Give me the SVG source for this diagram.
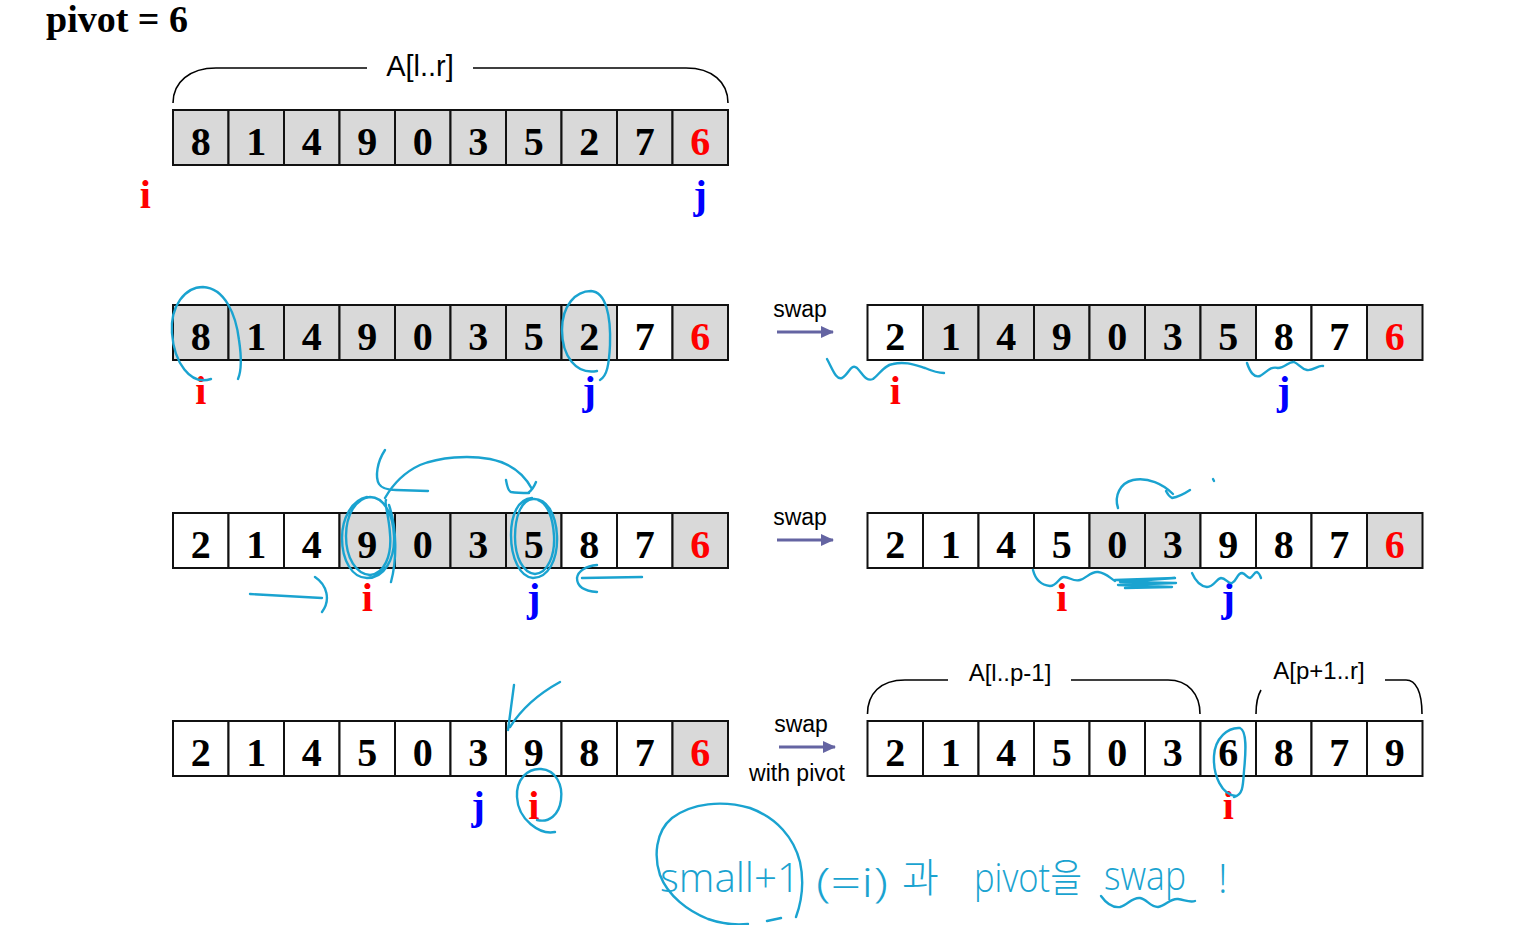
<svg xmlns="http://www.w3.org/2000/svg" width="1518" height="925" viewBox="0 0 1518 925">
<style>
.g{fill:#d9d9d9;stroke:#111;stroke-width:2}
.w{fill:#fff;stroke:#111;stroke-width:2}
.n{font-family:"Liberation Serif",serif;font-weight:bold;font-size:40px;text-anchor:middle;fill:#000}
.r{fill:#ff0000}
.b{fill:#0000ff}
.lab{font-family:"Liberation Serif",serif;font-weight:bold;font-size:40px;text-anchor:middle}
.sans{font-family:"Liberation Sans",Arial,sans-serif;fill:#000}
.br{fill:none;stroke:#000;stroke-width:1.6}
.arr{stroke:#6464a2;stroke-width:3;fill:none}
.hw{fill:none;stroke:#1aa3d0;stroke-width:2.4;stroke-linecap:round;stroke-linejoin:round}
.ht{font-family:"Open Sans","Noto Sans","Noto Sans CJK KR",sans-serif;font-weight:300;fill:#1aa3d0;font-size:40px}
</style>
<defs>
<marker id="ah" markerWidth="13" markerHeight="12" refX="12" refY="6" orient="auto" markerUnits="userSpaceOnUse">
<path d="M0,0 L13,6 L0,12 z" fill="#6464a2"/>
</marker>
</defs>

<text x="46" y="32" style="font-family:'Liberation Serif',serif;font-weight:bold;font-size:38px">pivot = 6</text>

<!-- Row 1 -->
<g id="array1">
<path class="br" d="M173,103 C173,82 190,68 216,68 L367,68 M473,68 L686,68 C712,68 728,82 728,103"/>
<text class="sans" x="420" y="76" font-size="29" text-anchor="middle">A[l..r]</text>
<rect class="g" x="173" y="110" width="55.5" height="55"/><rect class="g" x="228.5" y="110" width="55.5" height="55"/><rect class="g" x="284" y="110" width="55.5" height="55"/><rect class="g" x="339.5" y="110" width="55.5" height="55"/><rect class="g" x="395" y="110" width="55.5" height="55"/><rect class="g" x="450.5" y="110" width="55.5" height="55"/><rect class="g" x="506" y="110" width="55.5" height="55"/><rect class="g" x="561.5" y="110" width="55.5" height="55"/><rect class="g" x="617" y="110" width="55.5" height="55"/><rect class="g" x="672.5" y="110" width="55.5" height="55"/>
<text class="n" y="154.5"><tspan x="200.75">8</tspan><tspan x="256.25">1</tspan><tspan x="311.75">4</tspan><tspan x="367.25">9</tspan><tspan x="422.75">0</tspan><tspan x="478.25">3</tspan><tspan x="533.75">5</tspan><tspan x="589.25">2</tspan><tspan x="644.75">7</tspan><tspan x="700.25" class="r">6</tspan></text>
<text class="lab r" x="145.25" y="208">i</text>
<text class="lab b" x="700.25" y="208">j</text>
</g>

<!-- Row 2 left -->
<g id="array2">
<rect class="g" x="173" y="305" width="55.5" height="55"/><rect class="g" x="228.5" y="305" width="55.5" height="55"/><rect class="g" x="284" y="305" width="55.5" height="55"/><rect class="g" x="339.5" y="305" width="55.5" height="55"/><rect class="g" x="395" y="305" width="55.5" height="55"/><rect class="g" x="450.5" y="305" width="55.5" height="55"/><rect class="g" x="506" y="305" width="55.5" height="55"/><rect class="g" x="561.5" y="305" width="55.5" height="55"/><rect class="w" x="617" y="305" width="55.5" height="55"/><rect class="g" x="672.5" y="305" width="55.5" height="55"/>
<text class="n" y="349.5"><tspan x="200.75">8</tspan><tspan x="256.25">1</tspan><tspan x="311.75">4</tspan><tspan x="367.25">9</tspan><tspan x="422.75">0</tspan><tspan x="478.25">3</tspan><tspan x="533.75">5</tspan><tspan x="589.25">2</tspan><tspan x="644.75">7</tspan><tspan x="700.25" class="r">6</tspan></text>
<text class="lab r" x="200.75" y="404">i</text>
<text class="lab b" x="589.25" y="404">j</text>
</g>

<!-- Row 2 right -->
<g id="array3">
<rect class="w" x="867.5" y="305" width="55.5" height="55"/><rect class="g" x="923" y="305" width="55.5" height="55"/><rect class="g" x="978.5" y="305" width="55.5" height="55"/><rect class="g" x="1034" y="305" width="55.5" height="55"/><rect class="g" x="1089.5" y="305" width="55.5" height="55"/><rect class="g" x="1145" y="305" width="55.5" height="55"/><rect class="g" x="1200.5" y="305" width="55.5" height="55"/><rect class="w" x="1256" y="305" width="55.5" height="55"/><rect class="w" x="1311.5" y="305" width="55.5" height="55"/><rect class="g" x="1367" y="305" width="55.5" height="55"/>
<text class="n" y="349.5"><tspan x="895.25">2</tspan><tspan x="950.75">1</tspan><tspan x="1006.25">4</tspan><tspan x="1061.75">9</tspan><tspan x="1117.25">0</tspan><tspan x="1172.75">3</tspan><tspan x="1228.25">5</tspan><tspan x="1283.75">8</tspan><tspan x="1339.25">7</tspan><tspan x="1394.75" class="r">6</tspan></text>
<text class="lab r" x="895.25" y="404">i</text>
<text class="lab b" x="1283.75" y="404">j</text>
</g>

<!-- Row 3 left -->
<g id="array4">
<rect class="w" x="173" y="513" width="55.5" height="55"/><rect class="w" x="228.5" y="513" width="55.5" height="55"/><rect class="w" x="284" y="513" width="55.5" height="55"/><rect class="g" x="339.5" y="513" width="55.5" height="55"/><rect class="g" x="395" y="513" width="55.5" height="55"/><rect class="g" x="450.5" y="513" width="55.5" height="55"/><rect class="g" x="506" y="513" width="55.5" height="55"/><rect class="w" x="561.5" y="513" width="55.5" height="55"/><rect class="w" x="617" y="513" width="55.5" height="55"/><rect class="g" x="672.5" y="513" width="55.5" height="55"/>
<text class="n" y="557.5"><tspan x="200.75">2</tspan><tspan x="256.25">1</tspan><tspan x="311.75">4</tspan><tspan x="367.25">9</tspan><tspan x="422.75">0</tspan><tspan x="478.25">3</tspan><tspan x="533.75">5</tspan><tspan x="589.25">8</tspan><tspan x="644.75">7</tspan><tspan x="700.25" class="r">6</tspan></text>
<text class="lab r" x="367.25" y="611">i</text>
<text class="lab b" x="533.75" y="611">j</text>
</g>

<!-- Row 3 right -->
<g id="array5">
<rect class="w" x="867.5" y="513" width="55.5" height="55"/><rect class="w" x="923" y="513" width="55.5" height="55"/><rect class="w" x="978.5" y="513" width="55.5" height="55"/><rect class="w" x="1034" y="513" width="55.5" height="55"/><rect class="g" x="1089.5" y="513" width="55.5" height="55"/><rect class="g" x="1145" y="513" width="55.5" height="55"/><rect class="w" x="1200.5" y="513" width="55.5" height="55"/><rect class="w" x="1256" y="513" width="55.5" height="55"/><rect class="w" x="1311.5" y="513" width="55.5" height="55"/><rect class="g" x="1367" y="513" width="55.5" height="55"/>
<text class="n" y="557.5"><tspan x="895.25">2</tspan><tspan x="950.75">1</tspan><tspan x="1006.25">4</tspan><tspan x="1061.75">5</tspan><tspan x="1117.25">0</tspan><tspan x="1172.75">3</tspan><tspan x="1228.25">9</tspan><tspan x="1283.75">8</tspan><tspan x="1339.25">7</tspan><tspan x="1394.75" class="r">6</tspan></text>
<text class="lab r" x="1061.75" y="611">i</text>
<text class="lab b" x="1228.25" y="611">j</text>
</g>

<!-- Row 4 left -->
<g id="array6">
<rect class="w" x="173" y="721" width="55.5" height="55"/><rect class="w" x="228.5" y="721" width="55.5" height="55"/><rect class="w" x="284" y="721" width="55.5" height="55"/><rect class="w" x="339.5" y="721" width="55.5" height="55"/><rect class="w" x="395" y="721" width="55.5" height="55"/><rect class="w" x="450.5" y="721" width="55.5" height="55"/><rect class="w" x="506" y="721" width="55.5" height="55"/><rect class="w" x="561.5" y="721" width="55.5" height="55"/><rect class="w" x="617" y="721" width="55.5" height="55"/><rect class="g" x="672.5" y="721" width="55.5" height="55"/>
<text class="n" y="765.5"><tspan x="200.75">2</tspan><tspan x="256.25">1</tspan><tspan x="311.75">4</tspan><tspan x="367.25">5</tspan><tspan x="422.75">0</tspan><tspan x="478.25">3</tspan><tspan x="533.75">9</tspan><tspan x="589.25">8</tspan><tspan x="644.75">7</tspan><tspan x="700.25" class="r">6</tspan></text>
<text class="lab b" x="478.25" y="819">j</text>
<text class="lab r" x="533.75" y="819">i</text>
</g>

<!-- Row 4 right -->
<g id="array7">
<path class="br" d="M867.5,714 C867.5,694 880,680 905,680 L948,680 M1071,680 L1168,680 C1188,680 1200,694 1200,714 M1256,714 C1256,702 1258,695 1261,690 M1385,680 L1406,680 C1416,680 1422,692 1422,714"/>
<text class="sans" x="1010" y="681" font-size="24" text-anchor="middle">A[l..p-1]</text>
<text class="sans" x="1319" y="679" font-size="24" text-anchor="middle">A[p+1..r]</text>
<rect class="w" x="867.5" y="721" width="55.5" height="55"/><rect class="w" x="923" y="721" width="55.5" height="55"/><rect class="w" x="978.5" y="721" width="55.5" height="55"/><rect class="w" x="1034" y="721" width="55.5" height="55"/><rect class="w" x="1089.5" y="721" width="55.5" height="55"/><rect class="w" x="1145" y="721" width="55.5" height="55"/><rect class="w" x="1200.5" y="721" width="55.5" height="55"/><rect class="w" x="1256" y="721" width="55.5" height="55"/><rect class="w" x="1311.5" y="721" width="55.5" height="55"/><rect class="w" x="1367" y="721" width="55.5" height="55"/>
<text class="n" y="765.5"><tspan x="895.25">2</tspan><tspan x="950.75">1</tspan><tspan x="1006.25">4</tspan><tspan x="1061.75">5</tspan><tspan x="1117.25">0</tspan><tspan x="1172.75">3</tspan><tspan x="1228.25">6</tspan><tspan x="1283.75">8</tspan><tspan x="1339.25">7</tspan><tspan x="1394.75">9</tspan></text>
<text class="lab r" x="1228.25" y="819">i</text>
</g>

<!-- connectors -->
<g id="connectors">
<text class="sans" x="800" y="317" font-size="23" text-anchor="middle">swap</text>
<line class="arr" x1="777" y1="332" x2="833" y2="332" marker-end="url(#ah)"/>
<text class="sans" x="800" y="525" font-size="23" text-anchor="middle">swap</text>
<line class="arr" x1="777" y1="540" x2="833" y2="540" marker-end="url(#ah)"/>
<text class="sans" x="801" y="732" font-size="23" text-anchor="middle">swap</text>
<line class="arr" x1="779" y1="747" x2="835" y2="747" marker-end="url(#ah)"/>
<text class="sans" x="797" y="781" font-size="23" text-anchor="middle">with pivot</text>
</g>

<!-- handwritten annotations -->
<g id="annotations">
<path class="hw" d="M211,379 C190,386 174,362 172,333 C170,306 185,287 203,287 C225,288 236,315 239,340 C242,360 241,372 238,379"/>
<path class="hw" d="M597,371 C576,375 562,356 562,330 C562,305 576,291 591,291 C606,292 611,316 610,345 C609,365 607,376 600,380"/>
<path class="hw" d="M827,359 C833,370 836,380 842,378 C849,374 851,363 857,368 C863,374 866,382 873,379 C880,374 884,365 893,364 C905,361 915,365 925,368 C932,371 938,373 944,373"/>
<path class="hw" d="M1247,363 C1250,372 1254,378 1260,376 C1267,372 1270,366 1278,368 C1285,368 1289,361 1294,362 C1299,364 1301,369 1307,370 C1313,371 1318,365 1323,366"/>
<path class="hw" d="M367,497 C352,500 342,518 342,538 C342,560 352,578 367,578 C384,578 395,560 394,536 C393,514 384,497 370,497 C356,498 346,515 346,536 C346,558 356,574 370,575 C384,574 392,556 390,534 C389,516 384,503 386,500 M389,505 C397,528 397,560 391,582"/>
<path class="hw" d="M385,498 C393,484 405,472 420,465 C440,457 468,455 490,459 C510,463 524,474 532,489 M506,480 C507,486 508,491 511,492 C517,493 523,493 529,493 M536,482 C534,487 531,491 528,493"/>
<path class="hw" d="M385,450 C377,462 375,477 379,484 C382,489 388,490 396,490 L428,491"/>
<path class="hw" d="M532,498 C518,499 511,515 511,535 C511,558 520,577 533,578 C548,578 558,560 557,536 C556,513 546,498 533,499 C521,500 515,517 515,537 C515,557 523,573 535,574 C548,573 555,555 554,536 C553,517 547,503 538,500"/>
<path class="hw" d="M250,594 L322,598 M315,577 C327,585 331,600 322,612"/>
<path class="hw" d="M642,577 L582,578 M597,565 C586,566 578,571 577,578 C577,586 583,591 597,592"/>
<path class="hw" d="M1118,508 C1114,496 1120,483 1133,480 C1148,477 1163,484 1173,494 M1166,491 C1168,495 1170,497 1172,498 C1178,497 1184,494 1190,490 M1213,479 L1214,481"/>
<path class="hw" d="M1033,570 C1035,578 1040,585 1050,586 C1057,586 1059,577 1064,577 C1070,577 1073,582 1080,580 C1087,578 1091,571 1098,572 C1106,573 1110,578 1115,581"/>
<path class="hw" d="M1115,580 L1175,578 L1120,582 L1176,583 L1118,585 L1172,587 L1125,588"/>
<path class="hw" d="M1192,573 C1195,580 1199,586 1207,587 C1214,587 1216,579 1221,578 C1226,578 1228,584 1232,583 C1237,581 1237,573 1242,573 C1246,574 1247,578 1250,578 C1253,577 1254,572 1257,572 C1259,573 1260,575 1261,578"/>
<path class="hw" d="M514,685 C512,700 510,715 508,730 M560,682 C540,693 522,708 510,727"/>
<path class="hw" d="M555,832 C540,835 518,820 517,797 C516,779 528,768 541,769 C556,770 563,785 561,800 C559,815 549,823 537,820"/>
<path class="hw" d="M1236,796 C1222,795 1213,776 1214,756 C1215,738 1228,727 1240,728 C1247,731 1246,751 1244,771 C1243,786 1243,795 1234,797"/>
<path class="hw" d="M796,917 C801,903 805,885 800,862 C794,838 777,818 750,808 C722,800 692,803 672,818 C655,832 654,857 660,875 C668,896 688,911 708,919 C722,924 738,925 748,924 M767,921 L781,918"/>
<path class="hw" d="M1101,896 C1106,903 1112,908 1120,907 C1128,905 1132,897 1140,898 C1147,899 1150,907 1158,907 C1166,906 1170,898 1178,899 C1185,900 1190,903 1195,901"/>
<text class="ht" x="660" y="892" textLength="140" lengthAdjust="spacingAndGlyphs">small+1</text>
<text class="ht" x="816" y="897" textLength="72" lengthAdjust="spacingAndGlyphs">(=i)</text>
<text class="ht" x="902" y="892" font-size="36">과</text>
<text class="ht" x="974" y="892" textLength="108" lengthAdjust="spacingAndGlyphs">pivot을</text>
<text class="ht" x="1104" y="890" textLength="82" lengthAdjust="spacingAndGlyphs">swap</text>
<text class="ht" x="1218" y="893">!</text>
</g>
</svg>
